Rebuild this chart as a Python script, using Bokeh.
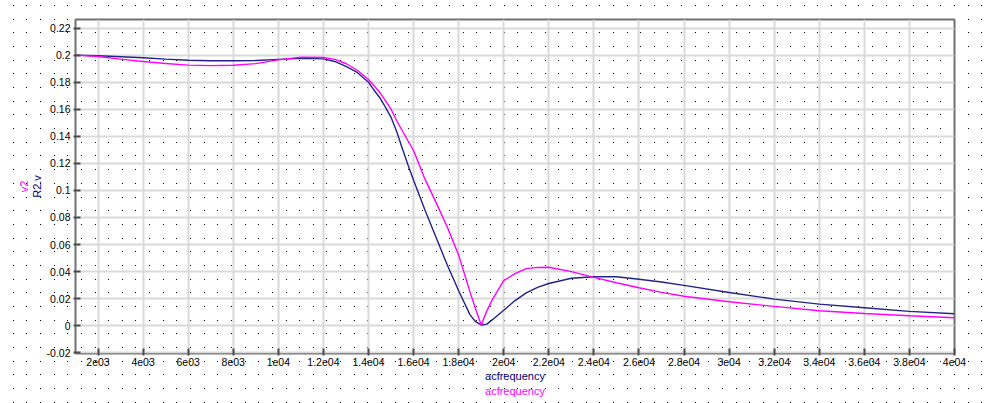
import base64
from bokeh.plotting import figure
from bokeh.models import ColumnDataSource, Range1d, FixedTicker, LinearAxis
from bokeh.embed import file_html
from bokeh.resources import INLINE

# ---- data ----
freq = [1000, 2000, 3000, 4000, 5000, 6000, 7000, 8000, 9000, 10000, 11000, 12000,
        12500, 13000, 13500, 14000, 14250, 14500, 14750, 15000, 15250, 15500, 15750,
        16000, 16500, 17000, 17500, 18000, 18500, 18750, 19000, 19250, 19500,
        20000, 20500, 21000, 21500, 22000,
        23000, 24000, 25000, 26000, 27000, 28000,
        30000, 32000, 34000, 36000, 38000, 40000]

r2_v = [0.2000, 0.1995, 0.1988, 0.1980, 0.1970, 0.1962, 0.1958, 0.1958, 0.1960, 0.1968, 0.1976, 0.1972,
        0.1953, 0.1917, 0.1872, 0.1800, 0.1740, 0.1685, 0.1615, 0.1540, 0.1435, 0.1310, 0.1190,
        0.1075, 0.0858, 0.0652, 0.0447, 0.0259, 0.0082, 0.0030, 0.0006, 0.0012, 0.0045,
        0.0114, 0.0186, 0.0243, 0.0283, 0.0312,
        0.0351, 0.0362, 0.0362, 0.0344, 0.0323, 0.0298,
        0.0246, 0.0197, 0.0160, 0.0133, 0.0106, 0.0089]

v2 = [0.2000, 0.1990, 0.1970, 0.1953, 0.1938, 0.1926, 0.1922, 0.1925, 0.1937, 0.1965, 0.1985, 0.1982,
      0.1968, 0.1938, 0.1888, 0.1820, 0.1774, 0.1724, 0.1663, 0.1600, 0.1515, 0.1441, 0.1367,
      0.1295, 0.1085, 0.0910, 0.0728, 0.0522, 0.0252, 0.0125, 0.0005, 0.0110, 0.0195,
      0.0333, 0.0385, 0.0422, 0.0431, 0.0432,
      0.0400, 0.0358, 0.0318, 0.0281, 0.0247, 0.0218,
      0.0177, 0.0143, 0.0111, 0.0091, 0.0074, 0.0059]

x_ticks = [2000, 4000, 6000, 8000, 10000, 12000, 14000, 16000, 18000, 20000,
           22000, 24000, 26000, 28000, 30000, 32000, 34000, 36000, 38000, 40000]
x_tick_labels = ["2e03", "4e03", "6e03", "8e03", "1e04", "1.2e04", "1.4e04", "1.6e04", "1.8e04", "2e04",
                 "2.2e04", "2.4e04", "2.6e04", "2.8e04", "3e04", "3.2e04", "3.4e04", "3.6e04", "3.8e04", "4e04"]
y_ticks = [-0.02, 0.0, 0.02, 0.04, 0.06, 0.08, 0.1, 0.12, 0.14, 0.16, 0.18, 0.2, 0.22]
y_tick_labels = ["-0.02", "0", "0.02", "0.04", "0.06", "0.08", "0.1", "0.12", "0.14", "0.16", "0.18", "0.2", "0.22"]

x_label = "acfrequency"
y_label_1 = "R2.v"
y_label_2 = "v2"

NAVY = "#22228a"
MAGENTA = "#ff00ff"
FONT = "Liberation Sans"

W, H = 989, 403

src = ColumnDataSource(data=dict(freq=freq, r2_v=r2_v, v2=v2))

p = figure(width=W, height=H, output_backend="svg", toolbar_location=None,
           x_range=Range1d(1000, 40000), y_range=Range1d(-0.0205, 0.2263),
           min_border_left=75, min_border_right=35, min_border_top=19, min_border_bottom=50,
           background_fill_alpha=0, border_fill_alpha=0,
           outline_line_color="#707070", outline_line_width=2)

# dotted paper background (decoration)
sx, sy = 13.64, 13.68
cols = [round(12.7 + sx * i) for i in range(80)]
rows = [round(5 + sy * j) for j in range(32)]
path = "".join(f"M{x} {y}h1v1h-1z" for x in cols for y in rows if 0 <= x < W and 0 <= y < H)
svg = f"<svg xmlns='http://www.w3.org/2000/svg' width='{W}' height='{H}'><path d='{path}' fill='black'/></svg>"
b64 = base64.b64encode(svg.encode()).decode()
p.styles = {"background-image": f"url('data:image/svg+xml;base64,{b64}')",
            "background-repeat": "no-repeat"}

p.line("freq", "r2_v", source=src, line_color=NAVY, line_width=1.4)
p.line("freq", "v2", source=src, line_color=MAGENTA, line_width=1.4)

p.xaxis.ticker = FixedTicker(ticks=x_ticks)
p.xaxis.major_label_overrides = dict(zip(x_ticks, x_tick_labels))
p.yaxis.ticker = FixedTicker(ticks=y_ticks)
p.yaxis.major_label_overrides = dict(zip(y_ticks, y_tick_labels))

p.grid.grid_line_color = "#d9d9d9"
p.grid.grid_line_width = 2

for ax in (p.xaxis[0], p.yaxis[0]):
    ax.axis_line_color = None
    ax.major_tick_line_color = "#4a4a4a"
    ax.major_tick_line_width = 2
    ax.major_tick_in = 5
    ax.major_tick_out = 2
    ax.minor_tick_line_color = None
    ax.major_label_text_font = FONT
    ax.major_label_text_font_size = "10.5px"
    ax.major_label_text_color = "#000000"
    ax.axis_label_text_font = FONT
    ax.axis_label_text_font_size = "11px"
    ax.axis_label_text_font_style = "normal"
    ax.axis_label_text_color = "#000080"
    ax.axis_label_standoff = 1

p.xaxis[0].major_label_standoff = 2
p.yaxis[0].major_label_standoff = 3
p.xaxis[0].axis_label = x_label
p.yaxis[0].axis_label = y_label_1


def label_axis(text, standoff):
    a = LinearAxis(axis_label=text, ticker=FixedTicker(ticks=[]),
                   axis_line_color=None, major_tick_line_color=None, minor_tick_line_color=None,
                   major_tick_in=0, major_tick_out=0, major_label_standoff=0,
                   major_label_text_font_size="0px",
                   axis_label_text_font=FONT, axis_label_text_font_size="11px",
                   axis_label_text_font_style="normal", axis_label_text_color=MAGENTA,
                   axis_label_standoff=standoff)
    return a


p.add_layout(label_axis(x_label, 0), "below")
p.add_layout(label_axis(y_label_2, -2), "left")

open("out.html", "w").write(file_html(p, INLINE))
